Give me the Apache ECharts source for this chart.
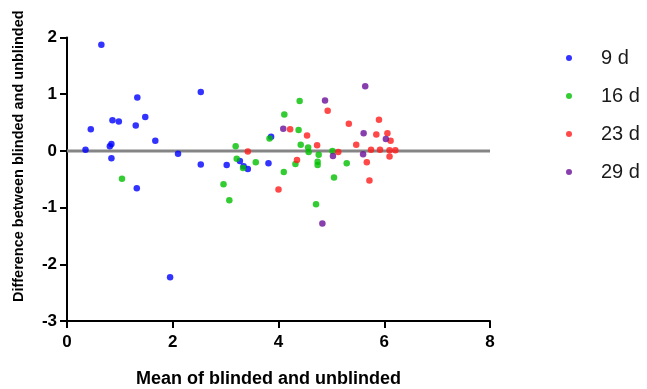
<!DOCTYPE html>
<html><head><meta charset="utf-8">
<script src="https://cdn.jsdelivr.net/npm/echarts@6/dist/echarts.min.js"></script>
<style>html,body{margin:0;padding:0;background:#fff}#c{width:647px;height:389px}</style>
</head><body><div id="c"></div>
<script>
const seriesNames = ['9 d', '16 d', '23 d', '29 d'];
const seriesColors = ['#0000ff', '#00c000', '#ff1a1a', '#6a0f9a'];
const xTicks = [0, 2, 4, 6, 8];
const yTicks = [-3, -2, -1, 0, 1, 2];
const d9 = [
  [0.65,1.87],[2.53,1.04],[1.33,0.94],[1.48,0.60],[0.86,0.54],[0.98,0.52],[1.30,0.45],
  [0.45,0.38],[1.67,0.18],[0.84,0.12],[0.81,0.08],[0.35,0.02],[2.10,-0.05],[0.84,-0.13],
  [2.53,-0.24],[1.32,-0.66],[1.95,-2.23],[3.86,0.25],[3.27,-0.18],[3.34,-0.27],[3.42,-0.32],
  [3.02,-0.25],[3.81,-0.22]
];
const d16 = [
  [1.04,-0.49],[4.40,0.88],[4.11,0.64],[4.38,0.37],[3.83,0.22],[3.19,0.08],[4.42,0.11],
  [4.56,0.06],[4.57,-0.02],[5.02,0.00],[4.76,-0.07],[3.21,-0.14],[3.57,-0.20],[4.32,-0.23],
  [4.74,-0.19],[4.74,-0.25],[5.29,-0.22],[3.33,-0.30],[4.10,-0.37],[5.05,-0.47],[2.96,-0.59],
  [3.07,-0.87],[4.71,-0.94]
];
const d23 = [
  [4.93,0.71],[5.33,0.48],[4.22,0.38],[4.54,0.27],[4.73,0.10],[3.42,-0.01],[5.13,-0.02],
  [4.35,-0.16],[4.00,-0.68],[5.90,0.55],[5.85,0.29],[6.06,0.31],[6.12,0.18],[5.47,0.11],
  [5.75,0.02],[5.92,0.02],[6.10,0.01],[6.21,0.01],[6.10,-0.10],[5.67,-0.20],[5.72,-0.52]
];
const d29 = [
  [4.88,0.89],[4.09,0.39],[5.03,-0.09],[4.83,-1.28],[5.64,1.14],[5.61,0.31],[6.03,0.21],
  [5.60,-0.06]
];
const zeroLine = [[0,0],[8,0]];
const allData = [d9, d16, d23, d29];

const chart = echarts.init(document.getElementById('c'), null, {renderer:'canvas'});
const font = 'Liberation Sans, Arial, sans-serif';
const series = [{
  type:'line', data: zeroLine, symbol:'none', silent:true, z:1,
  lineStyle:{color:'#858585', width:3}, animation:false
}];
allData.forEach((d,i)=>{
  series.push({
    name: seriesNames[i], type:'scatter', data:d, symbolSize:6.5, z:3,
    itemStyle:{color:seriesColors[i]}, animation:false
  });
});
chart.setOption({
  animation:false,
  grid:{left:67, top:37.5, width:423, height:283.5, containLabel:false, outerBoundsMode:'none'},
  legend:{
    data: seriesNames, orient:'vertical', left:561, top:43,
    icon:'circle', itemWidth:6, itemHeight:6, itemGap:18,
    textStyle:{fontFamily:font, fontSize:20, color:'#1a1a1a', lineHeight:20, padding:[0,0,0,24]}
  },
  xAxis:{
    type:'value', min:0, max:8, interval:2,
    name:'Mean of blinded and unblinded', nameLocation:'middle', nameGap:49,
    nameTextStyle:{fontFamily:font, fontSize:18, fontWeight:'bold', color:'#000', padding:[0,20,0,0]},
    axisLine:{onZero:false, lineStyle:{color:'#000', width:2}},
    axisTick:{show:true, length:7, lineStyle:{color:'#000', width:2}},
    axisLabel:{fontFamily:font, fontSize:17, fontWeight:'bold', color:'#000', margin:13,
      formatter:v=> xTicks.includes(v) ? String(v) : ''},
    splitLine:{show:false}
  },
  yAxis:{
    type:'value', min:-3, max:2, interval:1,
    name:'Difference between blinded and unblinded', nameLocation:'middle', nameGap:41,
    nameTextStyle:{fontFamily:font, fontSize:14.5, fontWeight:'bold', color:'#000', padding:[0,0,0,46]},
    axisLine:{show:true, onZero:false, lineStyle:{color:'#000', width:2}},
    axisTick:{show:true, length:7, lineStyle:{color:'#000', width:2}},
    axisLabel:{fontFamily:font, fontSize:17, fontWeight:'bold', color:'#000', margin:10,
      formatter:v=> yTicks.includes(v) ? String(v) : ''},
    splitLine:{show:false}
  },
  series: series
});
</script></body></html>
